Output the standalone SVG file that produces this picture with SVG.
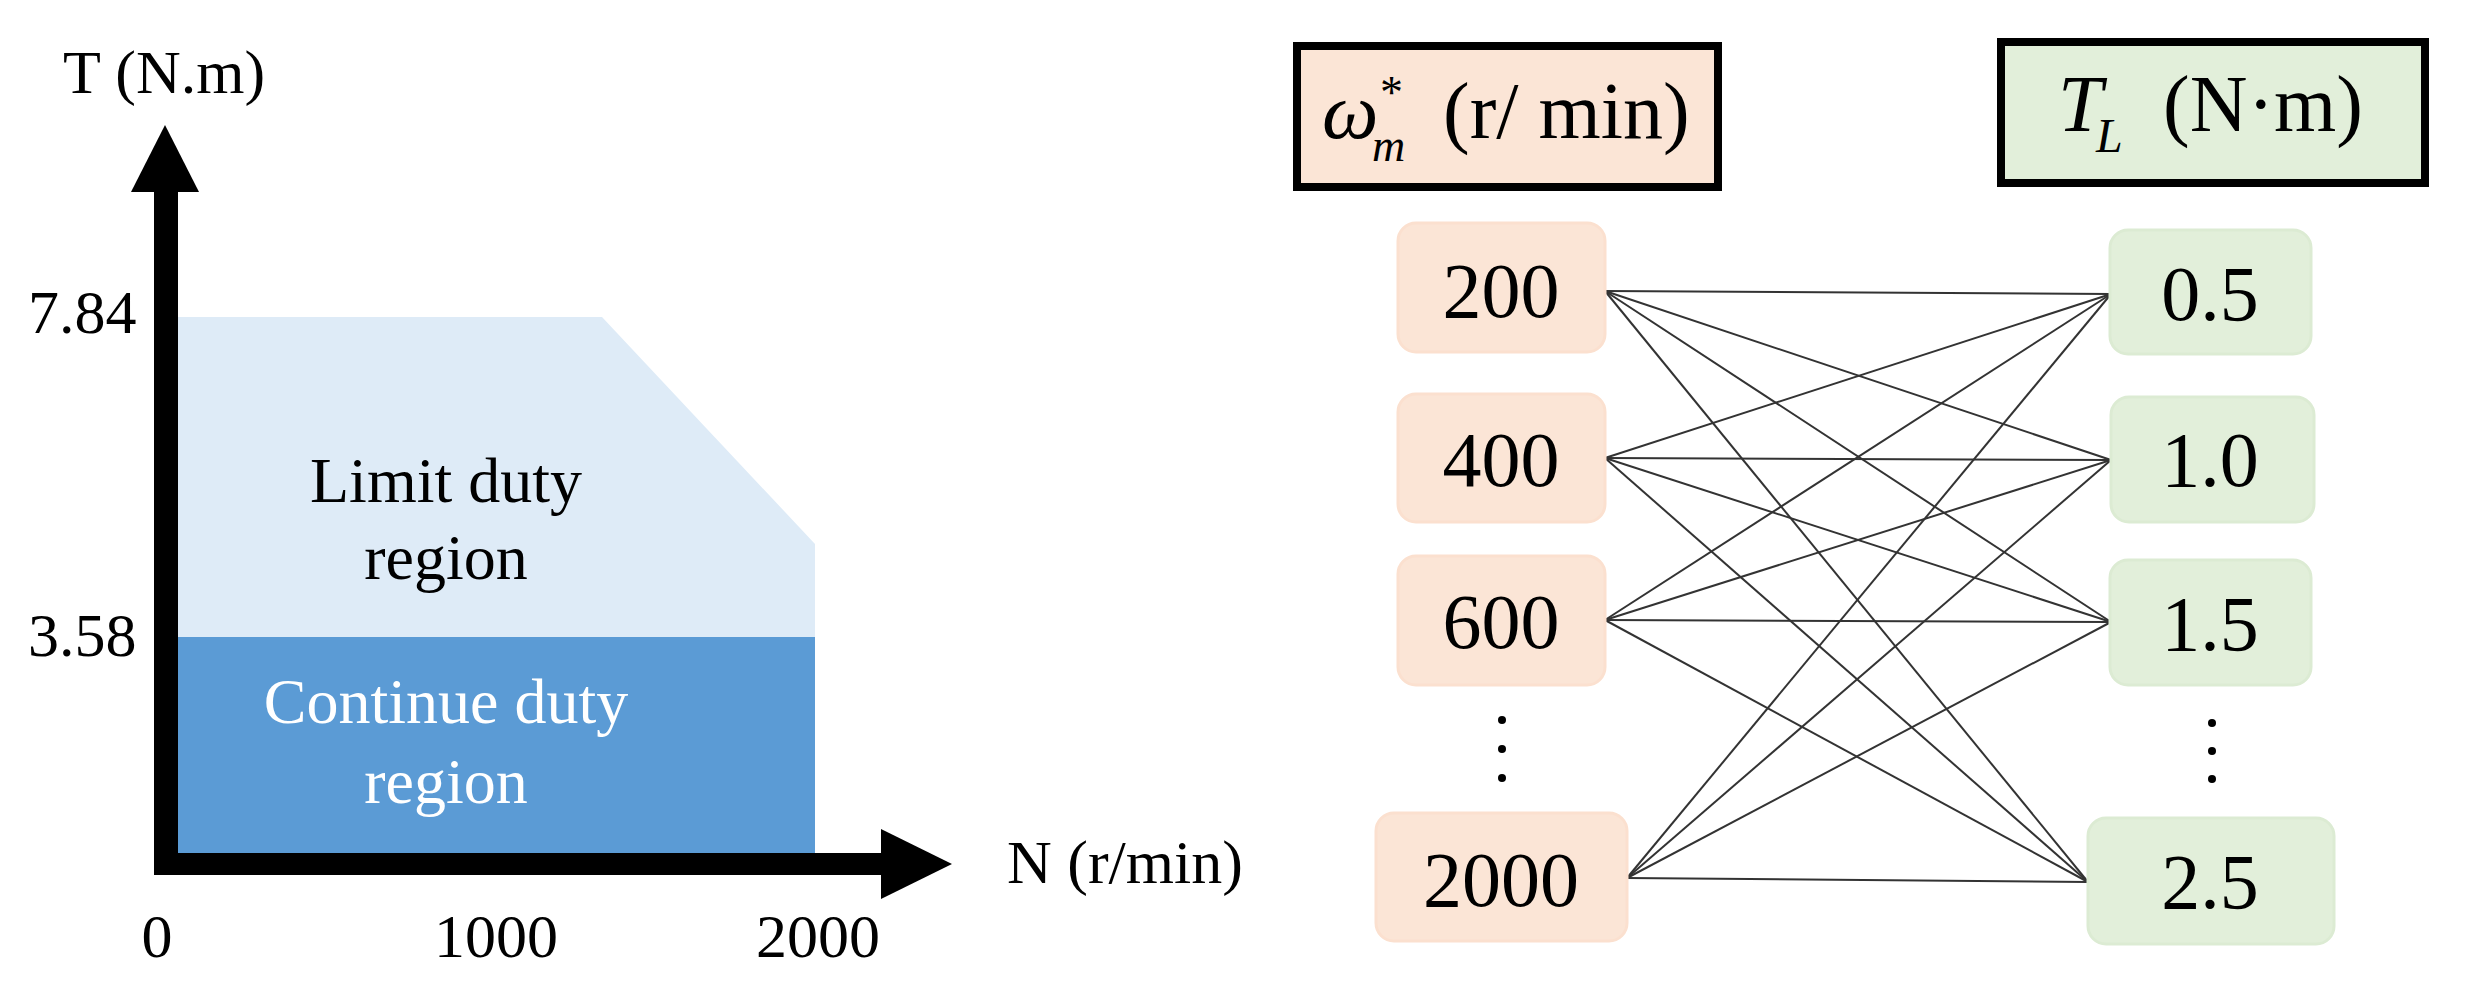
<svg xmlns="http://www.w3.org/2000/svg" width="2468" height="1004" viewBox="0 0 2468 1004">
<style>
text{font-family:"Liberation Serif","Times New Roman",serif;fill:#000}
.ax{font-size:62px}
.reg{font-size:64px;text-anchor:middle}
.nd{font-size:78px;text-anchor:middle}
.hd{font-size:80px}
.pk{fill:#fbe5d6;stroke:#fbe0cf;stroke-width:3}
.gr{fill:#e2efda;stroke:#dcebd3;stroke-width:3}
.c line{stroke:#333;stroke-width:2}
</style>
<rect width="2468" height="1004" fill="#fff"/>
<g id="chart">
<polygon points="177,317 602,317 815,544 815,637 177,637" fill="#deebf7"/>
<rect x="177" y="637" width="638" height="217" fill="#5b9bd5"/>
<rect x="154" y="185" width="24" height="690" fill="#000"/>
<polygon points="131,192 165,125 199,192" fill="#000"/>
<rect x="154" y="853" width="735" height="22" fill="#000"/>
<polygon points="881,829 952,864 881,899" fill="#000"/>
<text class="ax" x="63" y="93">T (N.m)</text>
<text class="ax" x="28" y="333">7.84</text>
<text class="ax" x="28" y="656">3.58</text>
<text class="reg" x="446" y="502">Limit duty</text>
<text class="reg" x="446" y="579">region</text>
<text class="reg" x="446" y="723" style="fill:#fff">Continue duty</text>
<text class="reg" x="446" y="803" style="fill:#fff">region</text>
<text class="ax" x="157" y="957" text-anchor="middle">0</text>
<text class="ax" x="496" y="957" text-anchor="middle">1000</text>
<text class="ax" x="818" y="957" text-anchor="middle">2000</text>
<text class="ax" x="1007" y="883">N (r/min)</text>
</g>
<g id="header-speed">
<rect x="1297" y="46" width="421" height="141" fill="#fbe5d6" stroke="#000" stroke-width="8"/>
<text class="hd" x="1322" y="138" font-style="italic">ω</text>
<text x="1372" y="161" font-size="46" font-style="italic">m</text>
<text x="1380" y="108" font-size="46">*</text>
<text class="hd" x="1443" y="138">(r/ min)</text>
</g>
<g id="header-torque">
<rect x="2001" y="42" width="424" height="141" fill="#e2efda" stroke="#000" stroke-width="8"/>
<text class="hd" x="2058" y="131" font-style="italic">T</text>
<text x="2096" y="152" font-size="48" font-style="italic">L</text>
<text class="hd" x="2163" y="131">(N·m)</text>
</g>
<g class="c" id="connectors">
<line x1="1605" y1="291" x2="2111" y2="294"/><line x1="1605" y1="291" x2="2111" y2="460"/><line x1="1605" y1="291" x2="2111" y2="622"/><line x1="1605" y1="291" x2="2088" y2="882"/>
<line x1="1605" y1="458" x2="2111" y2="294"/><line x1="1605" y1="458" x2="2111" y2="460"/><line x1="1605" y1="458" x2="2111" y2="622"/><line x1="1605" y1="458" x2="2088" y2="882"/>
<line x1="1605" y1="620" x2="2111" y2="294"/><line x1="1605" y1="620" x2="2111" y2="460"/><line x1="1605" y1="620" x2="2111" y2="622"/><line x1="1605" y1="620" x2="2088" y2="882"/>
<line x1="1627" y1="878" x2="2111" y2="294"/><line x1="1627" y1="878" x2="2111" y2="460"/><line x1="1627" y1="878" x2="2111" y2="622"/><line x1="1627" y1="878" x2="2088" y2="882"/>
</g>
<g id="n200"><rect class="pk" x="1398" y="223" width="207" height="129" rx="18"/><text class="nd" x="1501" y="317">200</text></g>
<g id="n400"><rect class="pk" x="1398" y="394" width="207" height="128" rx="18"/><text class="nd" x="1501" y="486">400</text></g>
<g id="n600"><rect class="pk" x="1398" y="556" width="207" height="129" rx="18"/><text class="nd" x="1501" y="648">600</text></g>
<g id="dots-left" fill="#000"><circle cx="1502" cy="720" r="4"/><circle cx="1502" cy="749" r="4"/><circle cx="1502" cy="778" r="4"/></g>
<g id="n2000"><rect class="pk" x="1376" y="813" width="251" height="128" rx="18"/><text class="nd" x="1501" y="906">2000</text></g>
<g id="t05"><rect class="gr" x="2110" y="230" width="201" height="124" rx="18"/><text class="nd" x="2210" y="320">0.5</text></g>
<g id="t10"><rect class="gr" x="2111" y="397" width="203" height="125" rx="18"/><text class="nd" x="2210" y="486">1.0</text></g>
<g id="t15"><rect class="gr" x="2110" y="560" width="201" height="125" rx="18"/><text class="nd" x="2210" y="650">1.5</text></g>
<g id="dots-right" fill="#000"><circle cx="2212" cy="723" r="4"/><circle cx="2212" cy="751" r="4"/><circle cx="2212" cy="779" r="4"/></g>
<g id="t25"><rect class="gr" x="2088" y="818" width="246" height="126" rx="18"/><text class="nd" x="2210" y="908">2.5</text></g>
</svg>
